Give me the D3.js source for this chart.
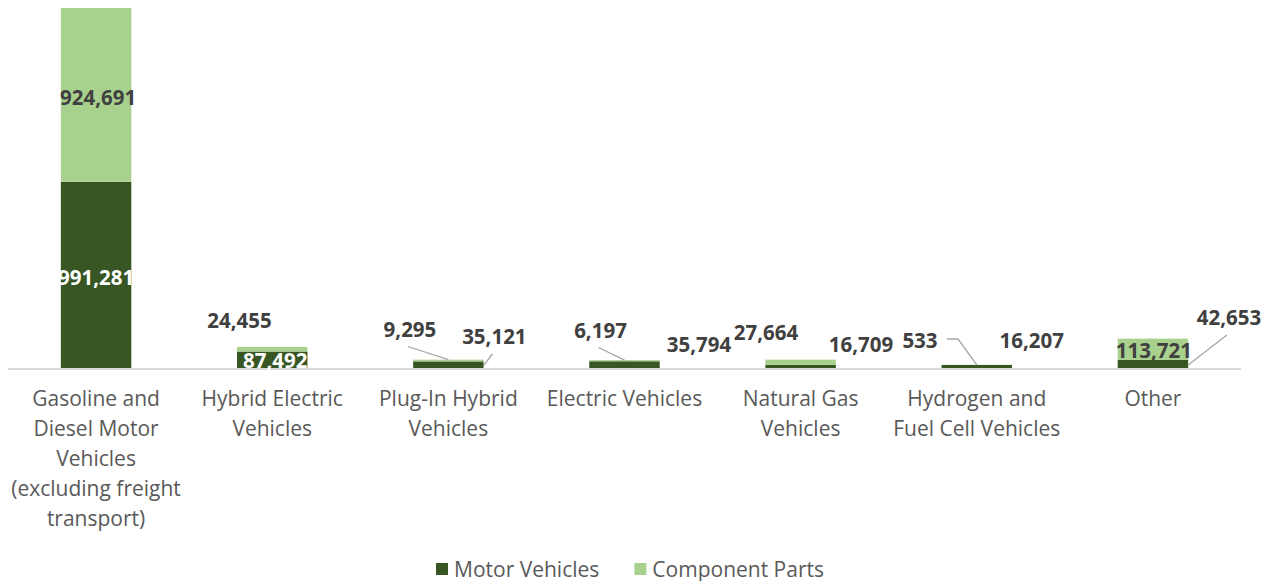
<!DOCTYPE html>
<html>
<head>
<meta charset="utf-8">
<script src="https://cdn.jsdelivr.net/npm/d3@7"></script>
<style>
  html, body { margin: 0; padding: 0; background: #ffffff; }
  svg { display: block; }
</style>
</head>
<body>
<svg id="chart" width="1277" height="581"></svg>
<script>
// ---- data ----
const categories = [
  "Gasoline and\nDiesel Motor\nVehicles\n(excluding freight\ntransport)",
  "Hybrid Electric\nVehicles",
  "Plug-In Hybrid\nVehicles",
  "Electric Vehicles",
  "Natural Gas\nVehicles",
  "Hydrogen and\nFuel Cell Vehicles",
  "Other"
];
const seriesNames = ["Motor Vehicles", "Component Parts"];
const motorVehicles  = [991281, 87492, 35121, 35794, 16709, 16207, 42653];
const componentParts = [924691, 24455, 9295, 6197, 27664, 533, 113721];

// ---- layout (label placement, not data) ----
// mode "in": offset from segment middle; mode "out": offset from bar center / baseline
const mvLabelLayout = [
  {mode: "in",  dx: 0,    dy: 3,   color: "#ffffff"},
  {mode: "in",  dx: 3,    dy: 1,   color: "#ffffff"},
  {mode: "out", dx: 46,   dy: -31, color: "#404040", leader: "right"},
  {mode: "out", dx: 74.5, dy: -23, color: "#404040"},
  {mode: "out", dx: 60.4, dy: -23, color: "#404040"},
  {mode: "out", dx: 55,   dy: -27, color: "#404040"},
  {mode: "out", dx: 76,   dy: -50, color: "#404040", leader: "right"}
];
const cpLabelLayout = [
  {mode: "in",  dx: 2,     dy: 3,    color: "#404040"},
  {mode: "out", dx: -32.7, dy: -47,  color: "#404040"},
  {mode: "out", dx: -38.4, dy: -38.5, color: "#404040", leader: "top"},
  {mode: "out", dx: -24,   dy: -37.5, color: "#404040", leader: "top"},
  {mode: "out", dx: -34.6, dy: -35,  color: "#404040"},
  {mode: "out", dx: -56.8, dy: -27,  color: "#404040", leader: "elbow"},
  {mode: "in",  dx: 1,     dy: 1.7,  color: "#404040"}
];

const colors = {"Motor Vehicles": "#375623", "Component Parts": "#A9D18E"};
const fmt = d3.format(",");

const svg = d3.select("#chart");
const plot = {left: 8, right: 1241, top: 8, base: 368};

const x = d3.scaleBand()
  .domain(categories)
  .range([plot.left, plot.right])
  .paddingInner(0.6)
  .paddingOuter(0.3);

const totals = categories.map((c, i) => motorVehicles[i] + componentParts[i]);
const y = d3.scaleLinear()
  .domain([0, d3.max(totals)])
  .range([plot.base, plot.top]);

const rows = categories.map((c, i) => ({cat: c, "Motor Vehicles": motorVehicles[i], "Component Parts": componentParts[i]}));
const stacked = d3.stack().keys(seriesNames)(rows);

// axis line
svg.append("line")
  .attr("x1", plot.left).attr("x2", plot.right)
  .attr("y1", plot.base + 1).attr("y2", plot.base + 1)
  .attr("stroke", "#D9D9D9").attr("stroke-width", 2);

// bars
svg.append("g").selectAll("g")
  .data(stacked).join("g")
  .attr("fill", d => colors[d.key])
  .selectAll("rect")
  .data(d => d).join("rect")
  .attr("x", d => x(d.data.cat))
  .attr("width", x.bandwidth())
  .attr("y", d => y(d[1]))
  .attr("height", d => y(d[0]) - y(d[1]));

// x axis category labels
const catFont = 21;
const xg = svg.append("g");
categories.forEach(c => {
  const lines = c.split("\n");
  const t = xg.append("text")
    .attr("text-anchor", "middle")
    .attr("font-family", "'Open Sans', sans-serif")
    .attr("font-size", catFont)
    .attr("fill", "#595959");
  lines.forEach((ln, j) => {
    t.append("tspan")
      .attr("x", x(c) + x.bandwidth() / 2)
      .attr("y", 406 + j * 30)
      .text(ln);
  });
});

// data labels
const lblFont = 20.5;
const lg = svg.append("g");
function drawLabels(seriesIdx, layout) {
  const s = stacked[seriesIdx];
  s.forEach((seg, i) => {
    const L = layout[i];
    const cx0 = x(seg.data.cat) + x.bandwidth() / 2;
    let cx, cy;
    if (L.mode === "in") {
      cx = cx0 + L.dx;
      cy = (y(seg[0]) + y(seg[1])) / 2 + L.dy;
    } else {
      cx = cx0 + L.dx;
      cy = y(0) + L.dy;
    }
    if (L.leader) {
      let pts;
      if (L.leader === "top") {
        pts = [[cx - 2, cy + 17], [cx0, y(seg[1])]];
      } else if (L.leader === "right") {
        pts = [[cx - 2, cy + 17], [x(seg.data.cat) + x.bandwidth(), (y(seg[0]) + y(seg[1])) / 2 + 1]];
      } else if (L.leader === "elbow") {
        pts = [[cx + 27, cy - 2], [cx + 38, cy - 2], [cx0, y(seg[1])]];
      }
      lg.append("path")
        .attr("d", d3.line()(pts))
        .attr("fill", "none")
        .attr("stroke", "#A6A6A6")
        .attr("stroke-width", 1.3);
    }
    lg.append("text")
      .attr("x", cx)
      .attr("y", cy + 0.357 * lblFont)
      .attr("text-anchor", "middle")
      .attr("font-family", "'Open Sans', sans-serif")
      .attr("font-weight", "bold")
      .attr("font-size", lblFont)
      .attr("fill", L.color)
      .text(fmt(seg[1] - seg[0]));
  });
}
drawLabels(1, cpLabelLayout);
drawLabels(0, mvLabelLayout);

// legend
const legend = svg.append("g");
let lx = 0;
seriesNames.forEach(name => {
  const g = legend.append("g");
  g.append("rect")
    .attr("x", lx).attr("y", 563)
    .attr("width", 12).attr("height", 12)
    .attr("fill", colors[name]);
  const t = g.append("text")
    .attr("x", lx + 18).attr("y", 576.5)
    .attr("font-family", "'Open Sans', sans-serif")
    .attr("font-size", 21)
    .attr("fill", "#595959")
    .text(name);
  lx += 18 + t.node().getComputedTextLength() + 35;
});
const legendWidth = lx - 35;
legend.attr("transform", `translate(${630 - legendWidth / 2},0)`);
</script>
</body>
</html>
